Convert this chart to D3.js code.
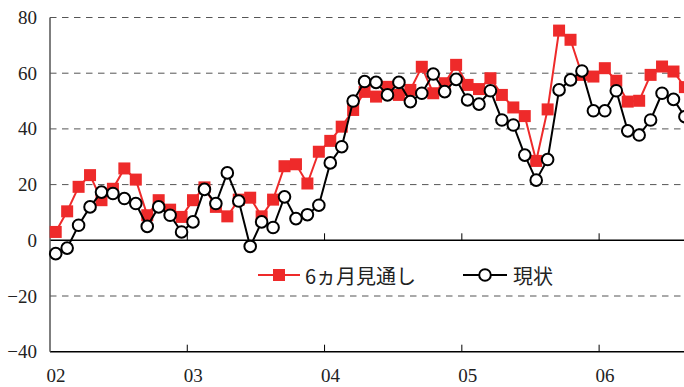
<!DOCTYPE html>
<html>
<head>
<meta charset="utf-8">
<script src="https://cdn.jsdelivr.net/npm/d3@7"></script>
<style>
  html, body { margin: 0; padding: 0; background: #fff; }
  svg { display: block; }
</style>
</head>
<body>
<svg id="chart" width="684" height="387"></svg>
<script>
// ---- data ----
const yearLabels = ["02", "03", "04", "05", "06"];
const yTicks = [80, 60, 40, 20, 0, -20, -40];
const seriesNames = ["6ヵ月見通し", "現状"];
// 6-month outlook (monthly, Jan 2002 - Aug 2006)
const outlook = [
  3, 10.4, 19.2, 23.4, 14.4, 18.5, 25.8, 21.8, 9, 14.4, 11, 8.4,
  14.4, 19, 12, 8.6, 14.6, 15.3, 8.6, 14.6, 26.6, 27.3, 20.4, 31.8,
  35.7, 40.8, 46.8, 53.3, 51.6, 55.1, 52.2, 54, 62.3, 52.8, 56.4, 63,
  55.8, 54.3, 58.2, 52.2, 47.7, 44.6, 28.5, 47, 75.3, 72, 59.4, 58.8,
  61.8, 57.3, 49.8, 50.1, 59.4, 62.4, 60.6, 55
];
// current situation
const current = [
  -4.8, -2.8, 5.4, 12, 17.3, 16.8, 15, 13.2, 5, 12, 9, 3,
  6.6, 18.3, 13.2, 24.2, 14.1, -2.2, 6.6, 4.6, 15.6, 7.8, 9.2, 12.6,
  27.8, 33.6, 50, 57, 56.7, 52.2, 56.7, 49.8, 52.8, 59.7, 53.4, 57.8,
  50.4, 48.9, 53.7, 43.2, 41.4, 30.6, 21.6, 29, 54, 57.6, 60.8, 46.5,
  46.5, 53.7, 39.3, 37.8, 43.2, 52.8, 50.6, 44.4
];

(function () {
// ---- layout ----
const svg = d3.select("#chart");
const mLeft = 50, mTop = 17.5, mBottom = 351.7, monthW = 11.44;
const x = d3.scaleLinear().domain([0, 60]).range([mLeft, mLeft + 60 * monthW]);
const y = d3.scaleLinear().domain([-40, 80]).range([mBottom, mTop]);
const RED = "#ee2a2a";
const serif = "'Liberation Serif', 'DejaVu Serif', serif";
const jp = "'Noto Sans CJK JP', sans-serif";

// gridlines
svg.append("g").selectAll("line")
  .data(yTicks.filter(v => v !== 0 && v !== -40))
  .join("line")
  .attr("x1", mLeft).attr("x2", 684)
  .attr("y1", d => y(d)).attr("y2", d => y(d))
  .attr("stroke", "#555").attr("stroke-width", 1)
  .attr("stroke-dasharray", "6.5,5.5");

// zero line & bottom axis
svg.append("line").attr("x1", mLeft).attr("x2", 684)
  .attr("y1", y(0)).attr("y2", y(0)).attr("stroke", "#000").attr("stroke-width", 1.5);
svg.append("line").attr("x1", mLeft).attr("x2", 684)
  .attr("y1", y(-40)).attr("y2", y(-40)).attr("stroke", "#000").attr("stroke-width", 1.5);
// y axis line
svg.append("line").attr("x1", mLeft).attr("x2", mLeft)
  .attr("y1", y(80)).attr("y2", y(-40)).attr("stroke", "#555").attr("stroke-width", 1.5);

// year ticks (inward, on zero line and bottom)
const yearIdx = yearLabels.map((d, i) => i * 12);
[0, -40].forEach(v => {
  svg.append("g").selectAll("line").data(yearIdx.slice(1)).join("line")
    .attr("x1", d => x(d)).attr("x2", d => x(d))
    .attr("y1", y(v)).attr("y2", y(v) - 7)
    .attr("stroke", "#000").attr("stroke-width", 1);
});

// y labels
svg.append("g").selectAll("text").data(yTicks).join("text")
  .attr("x", 37).attr("y", d => y(d))
  .attr("text-anchor", "end").attr("dominant-baseline", "central")
  .attr("font-family", serif).attr("font-size", 19).attr("fill", "#222")
  .text(d => d < 0 ? "\u2212" + Math.abs(d) : d);

// x labels
svg.append("g").selectAll("text").data(yearLabels).join("text")
  .attr("x", (d, i) => x(yearIdx[i]) - 3.5).attr("y", 382)
  .attr("text-anchor", "start")
  .attr("font-family", serif).attr("font-size", 19).attr("fill", "#222")
  .text(d => d);

const cx = (d, i) => x(i + 0.5);
const line = d3.line().x((d, i) => x(i + 0.5)).y(d => y(d));

// outlook series (red squares)
svg.append("path").datum(outlook).attr("d", line)
  .attr("fill", "none").attr("stroke", RED).attr("stroke-width", 2);
const sq = 12;
svg.append("g").selectAll("rect").data(outlook).join("rect")
  .attr("x", (d, i) => cx(d, i) - sq / 2).attr("y", d => y(d) - sq / 2)
  .attr("width", sq).attr("height", sq).attr("fill", RED);

// current series (black circles)
svg.append("path").datum(current).attr("d", line)
  .attr("fill", "none").attr("stroke", "#000").attr("stroke-width", 2);
svg.append("g").selectAll("circle").data(current).join("circle")
  .attr("cx", cx).attr("cy", d => y(d)).attr("r", 5.8)
  .attr("fill", "#fff").attr("stroke", "#000").attr("stroke-width", 2);

// legend
const ly = 275;
const lg = svg.append("g");
lg.append("line").attr("x1", 258).attr("x2", 300).attr("y1", ly).attr("y2", ly)
  .attr("stroke", RED).attr("stroke-width", 2);
lg.append("rect").attr("x", 279 - sq / 2).attr("y", ly - sq / 2).attr("width", sq).attr("height", sq).attr("fill", RED);
lg.append("text").attr("x", 305).attr("y", ly).attr("dominant-baseline", "central")
  .attr("font-family", jp).attr("font-size", 20).attr("fill", "#222").text(seriesNames[0]);
lg.append("line").attr("x1", 463).attr("x2", 507).attr("y1", ly).attr("y2", ly)
  .attr("stroke", "#000").attr("stroke-width", 2);
lg.append("circle").attr("cx", 485).attr("cy", ly).attr("r", 5.8)
  .attr("fill", "#fff").attr("stroke", "#000").attr("stroke-width", 2);
lg.append("text").attr("x", 513).attr("y", ly).attr("dominant-baseline", "central")
  .attr("font-family", jp).attr("font-size", 20).attr("fill", "#222").text(seriesNames[1]);
})();
</script>
</body>
</html>
